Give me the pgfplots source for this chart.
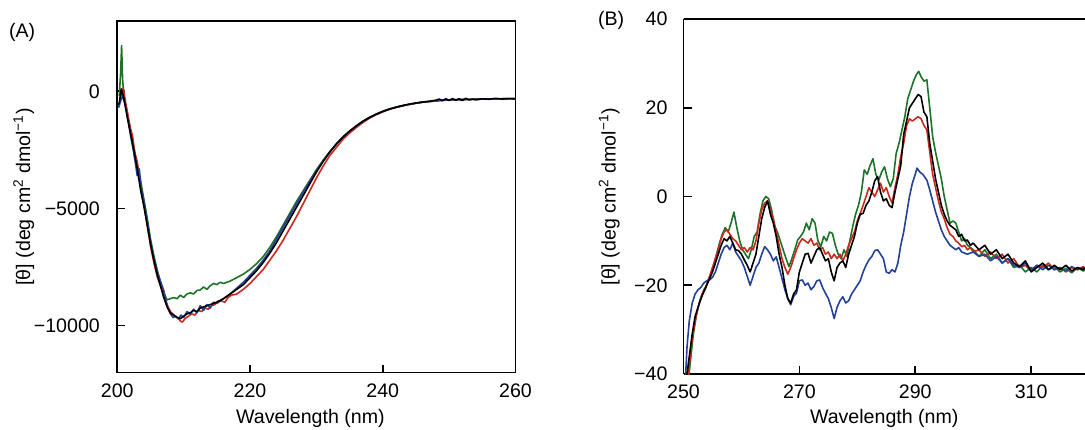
\documentclass[border=0pt]{standalone}
\usepackage{pgfplots}
\pgfplotsset{compat=1.18}
\usepackage{fontspec}
\setmainfont{Liberation Sans}
\definecolor{cdred}{RGB}{205,40,30}
\definecolor{cdgreen}{RGB}{30,115,40}
\definecolor{cdblue}{RGB}{35,65,150}
\newcommand{\lblfont}{\fontsize{9.8}{11}\selectfont}
\pgfplotsset{
  cdaxis/.style={
    scale only axis,
    tick align=inside,
    tick pos=left,
    major tick length=4pt,
    axis line style={line width=0.9pt},
    every tick/.style={line width=0.8pt,black},
    tick label style={font=\lblfont},
    label style={font=\lblfont},
    title style={font=\lblfont},
    scaled ticks=false,
    clip=true,
    xticklabel style={yshift=-2pt},
  },
  cdline/.style={line width=0.8pt, line join=round, mark=none},
}
\begin{document}
\begin{tikzpicture}
% ---------------- Panel A ----------------
\begin{axis}[cdaxis,
  at={(58.65pt,28.25pt)}, anchor=south west,
  width=199.1pt, height=175.75pt,
  xmin=200, xmax=260, ymin=-12000, ymax=3000,
  xtick={200,220,240,260}, xticklabels={200,220,240,260},
  ytick={-10000,-5000,0}, yticklabels={−10000,−5000,0},
  yticklabel style={xshift=-5.2pt},
  xlabel={Wavelength (nm)},
  xlabel style={at={(rel axis cs:0.485,0)}, anchor=center, yshift=-22.75pt},
  ylabel={[θ] (deg cm\textsuperscript{2} dmol\textsuperscript{−1})},
  ylabel style={at={(rel axis cs:-0.235,0.5)}, anchor=center},
  title={(A)},
  title style={at={(rel axis cs:0,1)}, anchor=center, xshift=-47.6pt, yshift=-11.5pt},
]
\addplot[cdline, cdgreen] coordinates {
(200.3,-200)(200.5,800)(200.65,1950)(200.8,500)(201.0,-200)(201.5,-1000)(202.0,-1700)(202.5,-2400)
(203.0,-3100)(203.5,-3800)(204.0,-4600)(204.5,-5400)(205.0,-6300)(205.5,-7000)(206.0,-7600)(206.5,-8150)
(207.0,-8600)(207.5,-8900)(208.0,-8850)(208.5,-8800)(209.0,-8850)(209.5,-8700)(210.0,-8800)(210.5,-8650)
(211.0,-8600)(211.5,-8650)(212.0,-8500)(212.5,-8480)(213.0,-8350)(213.5,-8450)(214.0,-8300)(214.5,-8200)
(215.0,-8250)(215.5,-8150)(216.0,-8200)(217,-8100)(218,-7950)(219,-7800)(220,-7600)(221,-7350)(222,-7050)
(223,-6650)(224,-6200)(225,-5700)(226,-5200)(227,-4700)(228,-4250)(229,-3800)(230,-3350)(231,-2950)
(232,-2580)(233,-2250)(234,-1950)(235,-1700)(236,-1480)(237,-1280)(238,-1110)(239,-970)(240,-850)
(241,-750)(242,-680)(243,-610)(244,-560)(245,-510)(246,-460)(247,-430)(248,-410)(249,-380)(250,-370)
(252,-350)(254,-340)(256,-330)(258,-320)(260,-310)
};
\addplot[cdline, cdred] coordinates {
(200.4,-300)(200.7,-100)(200.9,150)(201.2,-400)(201.6,-1000)(202.0,-1600)(202.3,-1900)(202.6,-2600)
(203.0,-3000)(203.5,-4000)(204.0,-4800)(204.5,-5700)(205.0,-6600)(205.5,-7300)(206.0,-7900)(206.5,-8300)
(207.0,-8600)(207.5,-9100)(208.0,-9400)(208.5,-9550)(209.0,-9650)(209.5,-9800)(209.8,-9850)(210.2,-9700)
(210.7,-9600)(211.2,-9500)(211.7,-9550)(212.2,-9350)(212.7,-9400)(213.2,-9250)(213.7,-9300)(214.2,-9150)
(214.7,-9100)(215.2,-8950)(215.7,-8950)(216.2,-9000)(216.7,-8800)(217.2,-8700)(218,-8650)(219,-8450)
(220,-8200)(221,-7900)(222,-7600)(223,-7200)(224,-6800)(225,-6350)(226,-5850)(227,-5350)(228,-4800)
(229,-4250)(230,-3700)(231,-3200)(232,-2750)(233,-2400)(234,-2050)(235,-1780)(236,-1550)(237,-1330)
(238,-1150)(239,-1000)(240,-880)(241,-770)(242,-690)(243,-620)(244,-560)(245,-510)(246,-470)(247,-440)
(248,-410)(249,-390)(250,-370)(252,-360)(254,-340)(256,-330)(258,-320)(260,-320)
};
\addplot[cdline, cdblue] coordinates {
(200.2,-700)(200.5,-400)(200.8,-200)(201.2,-600)(201.6,-1200)(202.0,-1900)(202.4,-2500)(202.8,-3200)
(203.0,-3600)(203.3,-3300)(203.6,-4100)(204.0,-4700)(204.5,-5500)(205.0,-6400)(205.5,-7100)(206.0,-7700)
(206.5,-8100)(207.0,-8500)(207.3,-8900)(207.6,-9250)(208.0,-9500)(208.4,-9650)(208.8,-9600)(209.2,-9700)
(209.6,-9550)(210.0,-9650)(210.5,-9400)(211.0,-9500)(211.5,-9300)(212.0,-9450)(212.5,-9150)(213.0,-9350)
(213.5,-9100)(214.0,-9250)(214.5,-9000)(215.0,-9050)(216,-8850)(217,-8650)(218,-8400)(219,-8150)
(220,-7850)(221,-7550)(222,-7200)(223,-6800)(224,-6300)(225,-5800)(226,-5300)(227,-4800)(228,-4300)
(229,-3850)(230,-3400)(231,-2980)(232,-2600)(233,-2260)(234,-1960)(235,-1710)(236,-1490)(237,-1290)
(238,-1120)(239,-980)(240,-860)(241,-760)(242,-680)(243,-610)(244,-550)(245,-500)(246,-460)(247,-430)
(248,-400)(249,-380)(250,-370)(252,-350)(254,-340)(256,-330)(258,-320)(260,-310)
};
\addplot[cdline, black] coordinates {
(200.0,-600)(200.3,-500)(200.6,100)(201.0,-300)(201.5,-1100)(202.0,-1800)(202.5,-2500)(203.0,-3300)
(203.5,-4200)(204.0,-4900)(204.5,-5700)(205.0,-6500)(205.5,-7200)(206.0,-7800)(206.5,-8300)(207.0,-8800)
(207.5,-9200)(208.0,-9450)(208.5,-9550)(209.0,-9650)(209.5,-9700)(210.0,-9600)(210.5,-9500)(211.0,-9450)
(211.5,-9350)(212.0,-9400)(212.5,-9250)(213.0,-9200)(213.5,-9150)(214.0,-9100)(214.5,-9050)(215.0,-9000)
(216,-8850)(217,-8650)(218,-8450)(219,-8250)(220,-7950)(221,-7650)(222,-7300)(223,-6900)(224,-6450)
(225,-5950)(226,-5450)(227,-4950)(228,-4450)(229,-3950)(230,-3450)(231,-3000)(232,-2600)(233,-2250)
(234,-1950)(235,-1700)(236,-1480)(237,-1280)(238,-1120)(239,-980)(240,-860)(241,-760)(242,-680)
(243,-610)(244,-550)(245,-500)(246,-460)(247,-430)(248,-380)(248.5,-330)(249,-400)(249.5,-320)
(250,-390)(250.5,-310)(251,-380)(251.5,-320)(252,-390)(252.5,-300)(253,-370)(253.5,-330)(254,-360)
(255,-320)(256,-340)(257,-300)(258,-330)(259,-310)(260,-320)
};
\end{axis}
% ---------------- Panel B ----------------
\begin{axis}[cdaxis,
  at={(341.75pt,27.5pt)}, anchor=south west,
  width=200.75pt, height=177.5pt,
  axis y line*=left,
  xmin=250, xmax=319.3, ymin=-40, ymax=40,
  xtick={250,270,290,310}, xticklabels={250,270,290,310},
  ytick={-40,-20,0,20,40}, yticklabels={−40,−20,0,20,40},
  yticklabel style={xshift=-4.5pt},
  xlabel={Wavelength (nm)},
  xlabel style={at={(rel axis cs:0.5,0)}, anchor=center, yshift=-22pt},
  ylabel={[θ] (deg cm\textsuperscript{2} dmol\textsuperscript{−1})},
  ylabel style={at={(rel axis cs:-0.185,0.5)}, anchor=center},
  title={(B)},
  title style={at={(rel axis cs:0,1)}, anchor=center, xshift=-36.2pt, yshift=-6.5pt},
]
\addplot[cdline, cdgreen] coordinates {
(250.8,-42)(251.2,-37)(251.7,-31)(252.2,-27)(252.7,-24)(253.2,-22)(253.7,-21)(254.2,-19)(254.7,-17.5)
(255.2,-15.5)(255.7,-13)(256.2,-10.5)(256.7,-8.5)(257.2,-7)(257.7,-8)(258.2,-6)(258.7,-3.5)(259.2,-7)
(259.7,-10)(260.2,-12)(260.7,-13)(261.2,-14)(261.7,-12)(262.2,-9)(262.7,-8)(263.2,-4)(263.7,-1)(264.2,0)
(264.7,-0.5)(265.2,-3)(265.7,-6.5)(266.2,-8)(266.7,-10)(267.2,-12)(267.7,-14)(268.2,-15.8)(268.7,-14)
(269.2,-12)(269.7,-9.8)(270.2,-9)(270.7,-8)(271.2,-6)(271.7,-7.5)(272.2,-5)(272.7,-6)(273.2,-10)
(273.7,-11.3)(274.2,-9)(274.7,-10)(275.2,-8)(275.7,-8.3)(276.2,-11)(276.7,-13)(277.2,-14)(277.7,-12)
(278.2,-13.5)(278.7,-10)(279.2,-6.8)(279.7,-4)(280.2,-2)(280.7,1)(281.2,6)(281.7,5)(282.2,7)(282.7,8.5)
(283.2,5)(283.7,3.7)(284.2,5.5)(284.7,6.7)(285.2,4)(285.7,2.2)(286.2,4)(286.7,9.7)(287.2,12)(287.7,15)
(288.2,18)(288.7,22)(289.2,24)(289.7,26)(290.2,27.5)(290.6,28.2)(291.0,27)(291.5,26)(292.0,26.3)
(292.5,20)(293.0,13.5)(293.5,10)(294.0,7)(294.5,4)(295.0,0)(295.5,-3)(296.0,-6)(296.5,-5.5)(297.0,-6)
(297.5,-8)(298.0,-10)(298.5,-9.5)(299.0,-11)(299.5,-11.5)(300.0,-12)(301,-13.5)(302,-12)(303,-14)
(304,-13)(305,-15)(306,-14)(307,-16)(308,-15.5)(309,-17)(310,-16)(311,-17)(312,-15.5)(313,-16.5)
(314,-15.8)(315,-17)(316,-16.2)(317,-17.2)(318,-16)(319,-16.8)(319.3,-16.5)
};
\addplot[cdline, cdred] coordinates {
(250.6,-42)(251.0,-38)(251.5,-32)(252.0,-28)(252.5,-25)(253.0,-23)(253.5,-21)(254.0,-20)(254.5,-18)
(255.0,-16)(255.5,-14)(256.0,-12)(256.5,-9.5)(257.0,-8)(257.5,-7.5)(258.0,-8.5)(258.5,-9.5)(259.0,-10)
(259.5,-11)(260.0,-12)(260.5,-11.5)(261.0,-12.5)(261.5,-11.5)(262.0,-12)(262.5,-10)(263.0,-6)(263.5,-3)
(264.0,-1.5)(264.5,-1)(265.0,-3)(265.5,-5)(266.0,-8)(266.5,-11)(267.0,-14)(267.5,-16)(268.0,-17.5)
(268.5,-16)(269.0,-14)(269.5,-12)(270.0,-10.5)(270.5,-9.5)(271.0,-10)(271.5,-10.5)(272.0,-9.5)
(272.5,-11)(273.0,-10.5)(273.5,-12)(274.0,-11.5)(274.5,-13)(275.0,-12.5)(275.5,-14)(276.0,-13)
(276.5,-14)(277.0,-13)(277.5,-14.5)(278.0,-13)(278.5,-11)(279.0,-9.5)(279.5,-8)(280.0,-5.5)(280.5,-3.8)
(281.0,-2)(281.5,0)(282.0,2)(282.5,1)(283.0,0)(283.5,1.5)(284.0,3)(284.5,1)(285.0,2)(285.5,0)
(286.0,-1.5)(286.5,2)(287.0,5)(287.5,9)(288.0,12)(288.5,16)(289.0,17.5)(289.5,17)(290.0,17.5)
(290.5,18)(291.0,17.5)(291.5,16)(292.0,15)(292.5,10)(293.0,5)(293.5,2)(294.0,-1)(294.5,-3.5)(295.0,-5)
(295.5,-7)(296.0,-8.5)(296.5,-9)(297.0,-10)(297.5,-10.5)(298.0,-11.3)(298.5,-11)(299.0,-12)(299.5,-11.5)
(300.0,-12.5)(301,-12)(302,-13.5)(303,-12.5)(304,-14)(305,-13)(306,-15)(307,-14)(308,-16)(309,-15.5)
(310,-16.8)(311,-15.5)(312,-16)(313,-15)(314,-16.5)(315,-16)(316,-17)(317,-16)(318,-16.5)(319,-15.8)
(319.3,-16.2)
};
\addplot[cdline, cdblue] coordinates {
(250.3,-42)(250.6,-34)(251.0,-28)(251.5,-24)(252.0,-22)(252.5,-21)(253.0,-20.5)(253.5,-19.5)(254.0,-19)
(254.5,-18.8)(255.0,-18.2)(255.5,-17)(256.0,-15)(256.5,-13)(257.0,-11.5)(257.5,-11)(258.0,-12)
(258.5,-10.5)(259.0,-12.5)(259.5,-13.5)(260.0,-14.5)(260.5,-16)(261.0,-18)(261.5,-20)(262.0,-18)
(262.5,-16)(263.0,-15)(263.5,-13)(264.0,-11.3)(264.5,-12)(265.0,-13)(265.5,-14.5)(266.0,-13.6)
(266.5,-16)(267.0,-18.5)(267.5,-21)(268.0,-23)(268.5,-24.4)(269.0,-22.5)(269.5,-21.8)(270.0,-19)
(270.5,-18.8)(271.0,-20)(271.5,-19.5)(272.0,-21)(272.5,-20.3)(273.0,-19)(273.5,-18.8)(274.0,-20.5)
(274.5,-21.8)(275.0,-23)(275.5,-25)(276.0,-27.5)(276.5,-25)(277.0,-23.5)(277.5,-22.6)(278.0,-24)
(278.5,-23.5)(279.0,-22)(279.5,-21)(280.0,-20)(280.5,-19)(281.0,-17)(281.5,-15.5)(282.0,-14.3)
(282.5,-13.5)(283.0,-12.2)(283.5,-12)(284.0,-13)(284.5,-14)(285.0,-17)(285.5,-17.3)(286.0,-16.5)
(286.5,-17)(287.0,-15)(287.5,-11)(288.0,-8)(288.5,-4)(289.0,0)(289.5,3)(290.0,5)(290.3,6.4)(290.8,5.5)
(291.3,5)(292.0,3.7)(292.5,1.5)(293.0,-1)(293.5,-3.5)(294.0,-5.5)(294.5,-7.5)(295.0,-9)(295.5,-10)
(296.0,-11)(296.5,-11.5)(297.0,-12)(297.5,-11.5)(298.0,-12.5)(299.0,-13)(300.0,-12.5)(301,-13.5)
(302,-13)(303,-14.5)(304,-13.5)(305,-15)(306,-14)(307,-15.5)(308,-16)(309,-15)(310,-16.5)(311,-15.5)
(312,-16.5)(313,-15.5)(314,-16.5)(315,-16)(316,-16.8)(317,-15.8)(318,-16.5)(319,-16)(319.3,-16.3)
};
\addplot[cdline, black] coordinates {
(250.4,-42)(251.0,-36)(251.5,-31)(252.0,-27)(252.5,-25)(253.0,-23)(253.5,-21.5)(254.0,-20)(254.5,-18.5)
(255.0,-17)(255.5,-15)(256.0,-13)(256.5,-11)(257.0,-9.5)(257.5,-10)(258.0,-9)(258.5,-10.5)(259.0,-12)
(259.5,-12.2)(260.0,-13)(260.5,-14.3)(261.0,-15.5)(261.5,-17)(262.0,-15)(262.5,-13)(263.0,-9)(263.5,-5)
(264.0,-2.5)(264.5,-1)(265.0,-4)(265.5,-6)(266.0,-9)(266.5,-13)(267.0,-16)(267.5,-20)(268.0,-23)
(268.5,-24)(269.0,-22)(269.5,-21)(270.0,-17)(270.5,-15)(271.0,-13)(271.5,-12.8)(272.0,-15)(272.5,-13.5)
(273.0,-12)(273.5,-11.5)(274.0,-13)(274.5,-14.5)(275.0,-14)(275.5,-17)(276.0,-19)(276.5,-16)(277.0,-15)
(277.5,-14.5)(278.0,-16)(278.5,-13)(279.0,-11)(279.5,-9)(280.0,-6)(280.5,-4)(281.0,-3.8)(281.5,-2)
(282.0,-1)(282.5,1)(283.0,3.5)(283.5,4.5)(284.0,1)(284.5,-1)(285.0,-0.5)(285.5,-2)(286.0,-2.5)(286.5,1)
(287.0,4)(287.5,7)(288.0,14)(288.5,17)(289.0,20)(289.5,21)(290.0,22)(290.5,23)(291.0,22.5)(291.5,19)
(292.0,18)(292.5,12)(293.0,8)(293.5,4)(294.0,1)(294.5,-2)(295.0,-4)(295.5,-5.5)(296.0,-6.5)(296.5,-7)
(297.0,-7.5)(297.5,-9)(298.0,-8.5)(298.5,-10)(299.0,-9.8)(299.5,-11)(300.0,-10.5)(301,-12)(302,-11)
(303,-13)(304,-12)(305,-14)(306,-13)(307,-15)(308,-15.8)(309,-14.5)(310,-17)(311,-16)(312,-15)
(313,-16.5)(314,-15.5)(315,-16.5)(316,-15.5)(317,-16.8)(318,-16)(319,-16.5)(319.3,-16)
};
\end{axis}
\pgfresetboundingbox
\useasboundingbox (0pt,0pt) rectangle (542.5pt,214.5pt);
\end{tikzpicture}
\end{document}
